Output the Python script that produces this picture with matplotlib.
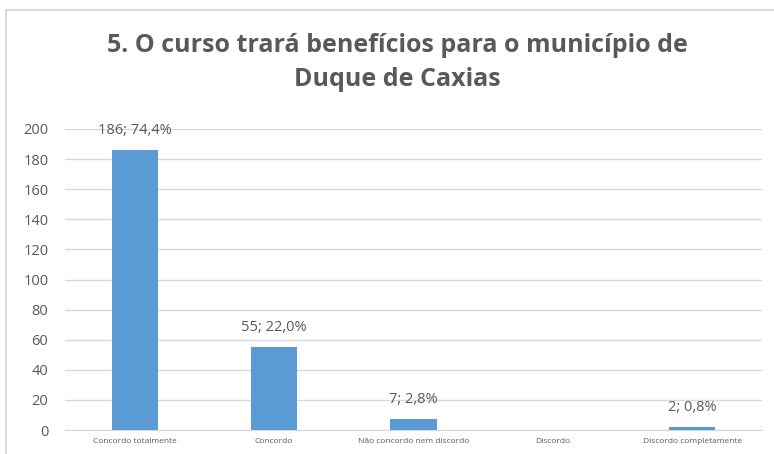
import matplotlib.pyplot as plt
from matplotlib.lines import Line2D

categorias = ['Concordo totalmente', 'Concordo', 'Não concordo nem discordo',
              'Discordo', 'Discordo completamente']
valores = [186, 55, 7, 0, 2]
rotulos = ['186; 74,4%', '55; 22,0%', '7; 2,8%', '', '2; 0,8%']
titulo = '5. O curso trará benefícios para o município de\nDuque de Caxias'

cinza = '#595959'
plt.rcParams['font.family'] = ['Open Sans', 'DejaVu Sans']

fig = plt.figure(figsize=(7.74, 4.54), dpi=100)
# borda do grafico (so aparecem topo e esquerda)
bx, by = 6 / 774, 1 - 10 / 454
fig.lines.append(Line2D([bx, 1], [by, by], transform=fig.transFigure,
                        color='#D9D9D9', linewidth=1.5))
fig.lines.append(Line2D([bx, bx], [0, by], transform=fig.transFigure,
                        color='#D9D9D9', linewidth=1.5))

ax = fig.add_axes([65 / 774, 24 / 454, 697 / 774, 301 / 454])
x = range(len(categorias))
barras = ax.bar(x, valores, width=0.33, color='#5B9BD5', zorder=3)

for b, r in zip(barras, rotulos):
    if r:
        ax.text(b.get_x() + b.get_width() / 2, b.get_height() + 8, r,
                ha='center', va='bottom', fontsize=10.5, color=cinza)

ax.set_xlim(-0.5, len(categorias) - 0.5)
ax.set_ylim(0, 200)
ax.set_yticks(range(0, 201, 20))
ax.set_xticks(list(x))
ax.set_xticklabels(categorias, fontsize=6, color=cinza)
ax.tick_params(axis='y', labelsize=10.5, labelcolor=cinza, length=0, pad=12)
ax.tick_params(axis='x', length=0, pad=6)
ax.grid(axis='y', color='#D9D9D9', linewidth=1, zorder=0)
for s in ['top', 'right', 'left']:
    ax.spines[s].set_visible(False)
ax.spines['bottom'].set_color('#D9D9D9')

fig.text(397 / 774, 1 - 33 / 454, titulo, ha='center', va='top', fontsize=18,
         fontweight='bold', color=cinza, linespacing=1.45)

fig.savefig('out.png', dpi=100)
